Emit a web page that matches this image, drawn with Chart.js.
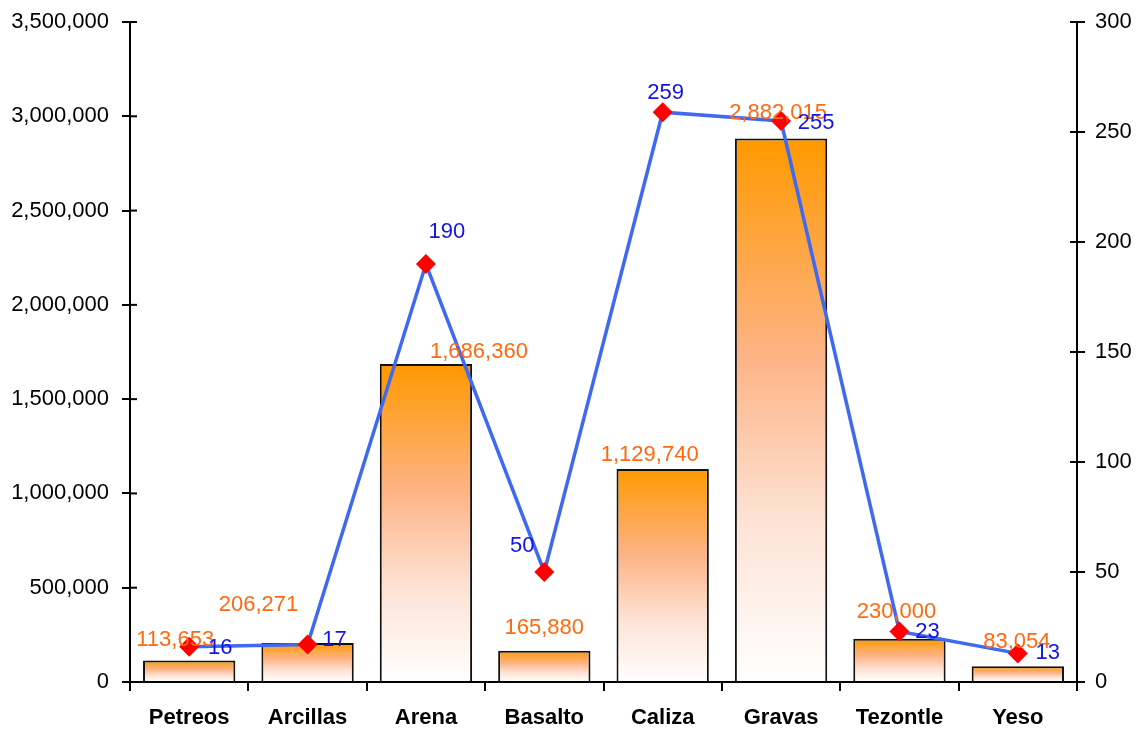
<!DOCTYPE html>
<html>
<head>
<meta charset="utf-8">
<script src="https://cdn.jsdelivr.net/npm/chart.js@4.4.1/dist/chart.umd.min.js"></script>
<style>
  html, body { margin: 0; padding: 0; background: #fff; }
  #wrap { width: 1137px; height: 729px; }
</style>
</head>
<body>
<div id="wrap"><canvas id="chart"></canvas></div>
<script>
const categories = ['Petreos', 'Arcillas', 'Arena', 'Basalto', 'Caliza', 'Gravas', 'Tezontle', 'Yeso'];
const production = [113653, 206271, 1686360, 165880, 1129740, 2882015, 230000, 83054];
const units = [16, 17, 190, 50, 259, 255, 23, 13];

// label nudges (px) — the source has hand-moved labels
const barLabelShift = [[-14, -21], [-49, -38], [53, -12], [0, -23], [-13, -14], [-3, -26], [-3, -27], [-1, -24]];
const lineLabelShift = [[31, 1], [27, -5], [21, -32], [-22, -26], [3, -19], [35, 2], [28, 1], [30, 0]];

const FONT = '"Liberation Sans", Arial, sans-serif';
const fmt = (v) => v.toLocaleString('en-US');

const barFill = (ctx) => {
  const chart = ctx.chart;
  if (!chart.chartArea) return '#FF9900';
  const y = chart.scales.y;
  const top = y.getPixelForValue(ctx.raw);
  const bottom = y.getPixelForValue(0);
  const g = chart.ctx.createLinearGradient(0, top, 0, bottom);
  g.addColorStop(0, '#FF9900');
  g.addColorStop(0.4, '#FDB385');
  g.addColorStop(0.7, '#FDE2D4');
  g.addColorStop(1, '#FFFFFF');
  return g;
};

// value labels + inner half of the axis tick marks
const decorations = {
  id: 'decorations',
  afterDatasetsDraw(chart) {
    const c = chart.ctx;
    c.save();
    c.font = '22px ' + FONT;
    c.textAlign = 'center';
    c.textBaseline = 'middle';

    c.fillStyle = '#FF6A10';
    chart.getDatasetMeta(0).data.forEach((bar, i) => {
      c.fillText(fmt(production[i]), bar.x + barLabelShift[i][0], bar.y + barLabelShift[i][1]);
    });

    c.fillStyle = '#1414E6';
    chart.getDatasetMeta(1).data.forEach((pt, i) => {
      c.fillText(String(units[i]), pt.x + lineLabelShift[i][0], pt.y + lineLabelShift[i][1]);
    });

    c.strokeStyle = '#000';
    c.lineWidth = 2;
    const left = chart.scales.y, right = chart.scales.y1;
    left.ticks.forEach((t) => {
      const py = left.getPixelForValue(t.value);
      c.beginPath(); c.moveTo(left.right, py); c.lineTo(left.right + 7, py); c.stroke();
    });
    right.ticks.forEach((t) => {
      const py = right.getPixelForValue(t.value);
      c.beginPath(); c.moveTo(right.left - 7, py); c.lineTo(right.left, py); c.stroke();
    });
    c.restore();
  }
};

const fixSide = (w) => (s) => {
  s.width = w;
  s.paddingTop = 0;
  s.paddingBottom = 0;
};

new Chart(document.getElementById('chart'), {
  data: {
    labels: categories,
    datasets: [
      {
        type: 'bar',
        label: 'Producción',
        data: production,
        yAxisID: 'y',
        backgroundColor: barFill,
        borderColor: '#111',
        borderWidth: 2,
        barPercentage: 0.78,
        categoryPercentage: 1,
        order: 2,
      },
      {
        type: 'line',
        label: 'Unidades',
        data: units,
        yAxisID: 'y1',
        borderColor: '#3F6AF0',
        borderWidth: 3.5,
        tension: 0,
        pointStyle: 'rectRot',
        pointRadius: 10,
        pointHoverRadius: 10,
        pointBackgroundColor: '#FF0000',
        pointBorderColor: '#FF0000',
        pointBorderWidth: 0,
        order: 1,
      },
    ],
  },
  options: {
    responsive: true,
    maintainAspectRatio: false,
    animation: false,
    layout: { padding: { top: 22, left: 0, right: 0, bottom: 0 } },
    plugins: { legend: { display: false }, tooltip: { enabled: false } },
    scales: {
      x: {
        offset: true,
        grid: { display: true, drawOnChartArea: false, offset: true, color: '#000', lineWidth: 2, tickLength: 9 },
        border: { display: true, color: '#000', width: 2 },
        ticks: { color: '#000', font: { family: FONT, size: 22, weight: 'bold' }, padding: 14 },
        afterFit: (s) => { s.height = 47; s.paddingLeft = 0; s.paddingRight = 0; },
      },
      y: {
        position: 'left',
        min: 0,
        max: 3500000,
        grid: { drawOnChartArea: false, color: '#000', lineWidth: 2, tickLength: 8 },
        border: { color: '#000', width: 2 },
        ticks: { stepSize: 500000, color: '#000', font: { family: FONT, size: 22 }, padding: 13, callback: (v) => fmt(v) },
        afterFit: fixSide(130),
      },
      y1: {
        position: 'right',
        min: 0,
        max: 300,
        grid: { drawOnChartArea: false, color: '#000', lineWidth: 2, tickLength: 8 },
        border: { color: '#000', width: 2 },
        ticks: { stepSize: 50, color: '#000', font: { family: FONT, size: 22 }, padding: 10 },
        afterFit: fixSide(60),
      },
    },
  },
  plugins: [decorations],
});
</script>
</body>
</html>
